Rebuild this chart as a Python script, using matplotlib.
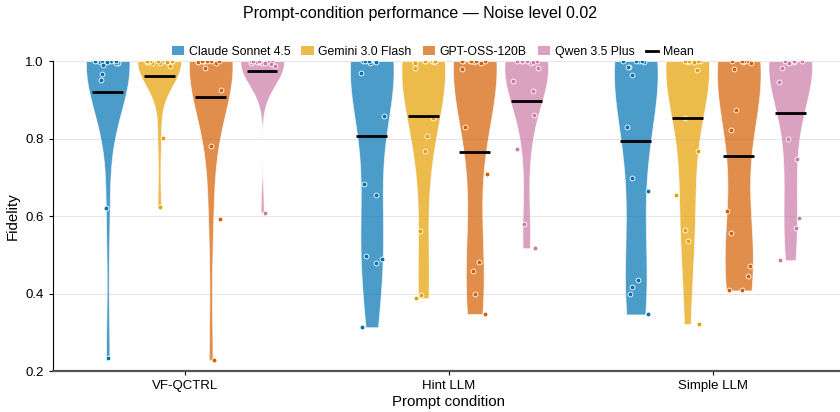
import numpy as np
import matplotlib.pyplot as plt
from matplotlib.patches import Patch
from matplotlib.lines import Line2D
from matplotlib.colors import to_rgba

plt.rcParams['font.family'] = ['Liberation Sans', 'DejaVu Sans']

conditions = ['VF-QCTRL', 'Hint LLM', 'Simple LLM']
models = ['Claude Sonnet 4.5', 'Gemini 3.0 Flash', 'GPT-OSS-120B', 'Qwen 3.5 Plus']
colors = ['#0072B2', '#E69F00', '#D55E00', '#CC79A7']

# fidelity of each run (15 runs per model)
vf_claude = [1.0, 1.0, 1.0, 0.998, 1.0, 0.996, 1.0, 0.994, 1.0, 0.997, 0.99, 0.966, 0.95, 0.62, 0.233]
vf_gemini = [1.0, 1.0, 0.998, 1.0, 1.0, 0.996, 1.0, 1.0, 0.997, 1.0, 0.995, 1.0, 0.987, 0.802, 0.624]
vf_gpt = [1.0, 1.0, 0.998, 1.0, 0.996, 1.0, 1.0, 0.997, 1.0, 1.0, 0.981, 0.924, 0.78, 0.592, 0.228]
vf_qwen = [1.0, 0.996, 1.0, 0.995, 1.0, 0.998, 0.994, 1.0, 1.0, 0.997, 1.0, 0.993, 1.0, 0.987, 0.609]

hint_claude = [1.0, 1.0, 0.997, 1.0, 0.995, 1.0, 1.0, 0.969, 0.859, 0.683, 0.655, 0.496, 0.488, 0.48, 0.313]
hint_gemini = [1.0, 1.0, 0.998, 1.0, 1.0, 0.996, 1.0, 1.0, 0.981, 0.853, 0.806, 0.769, 0.562, 0.395, 0.388]
hint_gpt = [1.0, 1.0, 0.997, 1.0, 1.0, 0.995, 1.0, 1.0, 0.98, 0.829, 0.709, 0.482, 0.458, 0.398, 0.347]
hint_qwen = [1.0, 1.0, 0.996, 1.0, 1.0, 0.998, 1.0, 1.0, 0.981, 0.949, 0.923, 0.86, 0.774, 0.58, 0.517]

simple_claude = [1.0, 1.0, 0.997, 1.0, 1.0, 0.985, 0.985, 0.963, 0.831, 0.699, 0.664, 0.436, 0.418, 0.40, 0.346]
simple_gemini = [1.0, 1.0, 0.998, 1.0, 1.0, 0.997, 1.0, 1.0, 0.977, 0.854, 0.769, 0.654, 0.564, 0.535, 0.321]
simple_gpt = [1.0, 1.0, 0.998, 1.0, 1.0, 0.994, 0.98, 0.874, 0.821, 0.614, 0.555, 0.472, 0.444, 0.408, 0.408]
simple_qwen = [1.0, 1.0, 0.997, 1.0, 1.0, 0.996, 1.0, 1.0, 0.981, 0.947, 0.80, 0.747, 0.596, 0.569, 0.486]

# mean lines as shown
mean_vf = [0.920, 0.962, 0.907, 0.974]
mean_hint = [0.806, 0.858, 0.765, 0.897]
mean_simple = [0.794, 0.853, 0.755, 0.866]

data = [[vf_claude, vf_gemini, vf_gpt, vf_qwen],
        [hint_claude, hint_gemini, hint_gpt, hint_qwen],
        [simple_claude, simple_gemini, simple_gpt, simple_qwen]]
means = [mean_vf, mean_hint, mean_simple]

fig = plt.figure(figsize=(8.4, 4.12), dpi=100)
ax = fig.add_axes([0.063, 0.0995, 0.943, 0.7524])

offsets = np.array([-1.5, -0.5, 0.5, 1.5]) * 0.195
vwidth = 0.165
rng = np.random.default_rng(7)

for g, cond in enumerate(conditions):
    for m in range(len(models)):
        pos = g + offsets[m]
        vals = np.array(data[g][m])
        parts = ax.violinplot([vals], positions=[pos], widths=vwidth,
                              showmeans=False, showextrema=False, showmedians=False)
        for b in parts['bodies']:
            b.set_facecolor(colors[m])
            b.set_edgecolor('white')
            b.set_alpha(0.7)
            b.set_linewidth(0.6)
            b.set_zorder(2)
        jit = rng.uniform(-0.05, 0.05, len(vals))
        ax.scatter(pos + jit, vals, s=12, color=colors[m], edgecolor='white',
                   linewidth=0.6, zorder=3)
        ax.hlines(means[g][m], pos - 0.058, pos + 0.058, color='black', lw=2, zorder=4)

ax.set_xlim(-0.5, 2.5)
ax.set_ylim(0.2, 1.0)
ax.set_yticks([0.2, 0.4, 0.6, 0.8, 1.0])
ax.set_yticklabels(['0.2', '0.4', '0.6', '0.8', '1.0'])
ax.set_xticks(range(len(conditions)))
ax.set_xticklabels(conditions)
ax.tick_params(axis='both', labelsize=9.5, length=3, width=0.8)
ax.grid(axis='y', color='#e6e6e6', lw=0.8, zorder=0)
ax.set_axisbelow(True)
for s in ['top', 'right']:
    ax.spines[s].set_visible(False)
ax.spines['left'].set_linewidth(0.8)
ax.spines['bottom'].set_color('#555555')
ax.spines['bottom'].set_linewidth(1.6)
ax.set_xlabel('Prompt condition', fontsize=10.8, labelpad=2)
ax.set_ylabel('Fidelity', fontsize=10.8)

handles = [Patch(facecolor=to_rgba(c, 0.7), edgecolor='none') for c in colors]
handles.append(Line2D([0], [0], color='black', lw=2))
fig.legend(handles, models + ['Mean'], loc='upper center', bbox_to_anchor=(0.515, 0.915),
           ncol=5, frameon=False, fontsize=8.8, handlelength=1.0, handleheight=0.7,
           handletextpad=0.4, columnspacing=0.9)
fig.suptitle('Prompt-condition performance — Noise level 0.02', fontsize=11.5, y=0.985)

fig.savefig('out.png', dpi=100)
